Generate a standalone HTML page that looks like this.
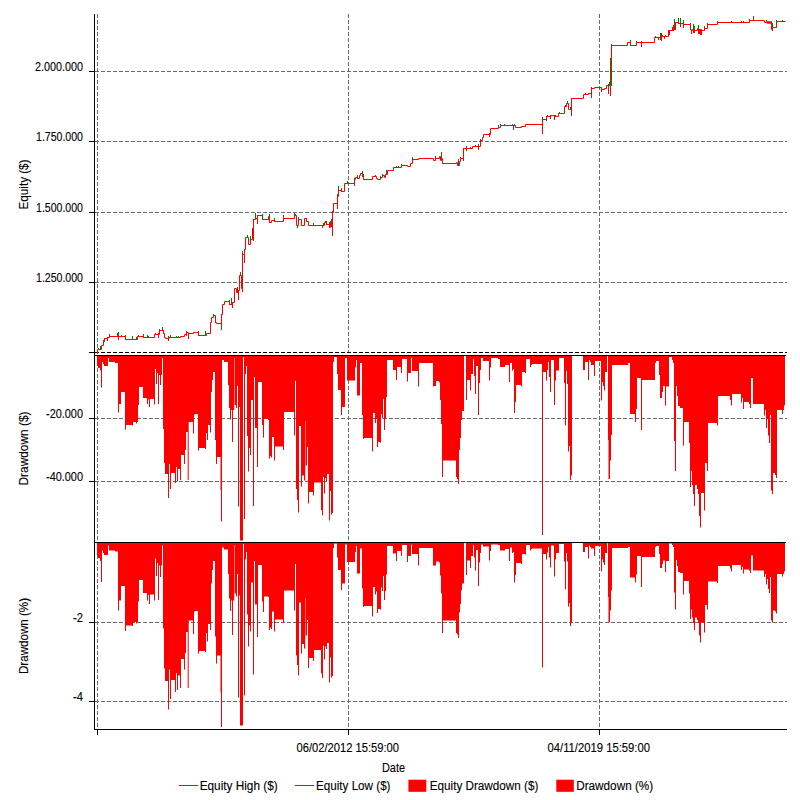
<!DOCTYPE html>
<html><head><meta charset="utf-8"><title>Equity chart</title>
<style>
html,body{margin:0;padding:0;background:#fff;}
body{width:800px;height:800px;overflow:hidden;font-family:"Liberation Sans",sans-serif;}
svg{display:block;}
text{font-family:"Liberation Sans",sans-serif;fill:#000;stroke:#000;stroke-width:0.12px;}
</style></head><body>
<svg width="800" height="800" viewBox="0 0 800 800">
<rect width="800" height="800" fill="#fff"/>
<g stroke="#6a6a6a" stroke-width="1" stroke-dasharray="4 2" shape-rendering="crispEdges" fill="none"><line x1="95" x2="787" y1="71.5" y2="71.5"/><line x1="95" x2="787" y1="141.5" y2="141.5"/><line x1="95" x2="787" y1="212.5" y2="212.5"/><line x1="95" x2="787" y1="282.5" y2="282.5"/><line x1="95" x2="787" y1="418.5" y2="418.5"/><line x1="95" x2="787" y1="481.5" y2="481.5"/><line x1="95" x2="787" y1="622.5" y2="622.5"/><line x1="95" x2="787" y1="701.5" y2="701.5"/><line x1="97.5" x2="97.5" y1="14" y2="352"/><line x1="97.5" x2="97.5" y1="356" y2="542"/><line x1="97.5" x2="97.5" y1="543" y2="729"/><line x1="348.5" x2="348.5" y1="14" y2="352"/><line x1="348.5" x2="348.5" y1="356" y2="542"/><line x1="348.5" x2="348.5" y1="543" y2="729"/><line x1="599.5" x2="599.5" y1="14" y2="352"/><line x1="599.5" x2="599.5" y1="356" y2="542"/><line x1="599.5" x2="599.5" y1="543" y2="729"/></g>
<g>
<path d="M97,356V366H98V368H100V370.5H101V387.5H102V362H103V364H104V366H108V358H109V362H115V363H118V412.5H119V404H121V392H125V429.5H126V425H132V425.5H133V422H136V423.5H137V422H138V405H139V387H143V398H147V404H148V399.5H149V407H150V399H154V404.5H155V369H156V384H157V373H158V404H159V375H160V385H161V375H162V358H163V429H164V463H165V474H168V498H169V464H170V489H171V473H175V483H176V467H177V481.5H178V469H180V480H181V455H184V464H185V450H186V432H187.7V480H188.7V422H193V433.5H194V414.5H195V414H198V450.5H199V448H205V449H206V433H207V440H208V425H210V432.5H211V392H212V380H213V372H215V440H216V464H217V457H220.5V490H221V521.5H222V360H224V362H228V385H229V408H230V419.5H231V410H232V442H233V410H234.2V358H234.7V405H236V408H237V386H238V506.5H239V407H240V540.5H243V357H244V519H245V374H246V366H247V436H248V471.5H249V448H250V455H251V400H253V506H254V377H255V428H257V467H258V382H262V425H263V437.5H264V419H268V420H269V458.5H270V456H271V457.5H272V437H274V460.5H275V446.5H283V450H284V412H294V435.5H295V381H296V489H297V500H298V512.5H299V426H301V486.5H302V475.5H304V480.5H305.3V421H305.7V465.5H307V447H308V503.5H309V492H313V495.5H314V482.5H321V510H322V515.5H323V477H324V493.5H325V478H326V481H327V474H329V520.5H330V491H331V514.5H332V513H333V362H334V357H337V374H338V390H341V415H342V407H345V358H347V380.5H355V367.5H356V360H357V395.5H360V363H362V415H363V439H364V438H372V451.5H373V413H375V423H376V419H377V447H378V442H380V442.5H381V414H382V418.5H383V399H384V430H385V418.5H386V397H387V360H393V370H395V370H396V380H397V367H401V373H402V359H407V381.5H408V373H411V358H412V371H418V386.5H419V363H433V386.5H434V386H436V381H439V382.5H440V400H441V424H442V477H443V460.5H456V477H457V479H458V484H459V450H460V438H461V420H462V411H464V356H466V400H467V380H470V390.5H471V374H473V359H474V376H475V394H476V366H478V415H479V383H480V370H481V358H483V361H489V380.5H490V367.5H491V358H495V358H498V359H500V367H505V365H509V382H510V363H512V370.5H513V369H514V413H515V402H516V385H521V386.5H522V372H525V373H526V359H530V367H531V365H532V364H542V535H543V372H546V380.5H547V370H548V362H549V377H550V392H551V360H554V405H555V380.5H556V370.5H559V358H564V383H565V425.5H566V371H567V384H568V451.5H569V446H570V480H571V475.5H572V356H583V370H585V362H588V380H589V360H590V362H591V365H594V376H595V361H601V400.5H602V382H603V386H604V390.5H605V372H607V356H608V440H608.5V479H610V460.5H611V435H612V365H628V363H630V414H635V422H636V409H637V378H641V430H642V380H655V363H656V361H659V375H660V398H662V392H663V386H665V405.5H666V386.5H669V357H672V360H673V363H674V441H675V471H676V386H677V396H678V406H680V408H683V445.5H684V422H689V443H690V487H691V471H692V485H693V494H694V506H695V485H697V489H698V494H699V516H700V527.5H701V493H704V510.5H705V463H707V471H708V423H717V425.5H718V396H730V400H731V405.5H732V394H741V402.5H742V398H743V409H744V402H749V404H750V408H751V378H753V404H764V415.5H765V410H766V428H767V419H768V435.5H769V443H770V415H771V490.5H772V494H773V473H775V475H776V478H777V410H782V414H783V410H784V405.5H785V356Z" fill="#ff0000"/>
<path d="M97,543V555.5H98V558H100V561H101V582H102V550.5H103V553H104V555H108V545.5H109V550.5H115V551.5H118V610.5H119V600.5H121V586H125V631H126V625.5H132V626H133V622H136V623.5H137V622H138V601.5H139V580H143V593H147V600.5H148V595H149V604H150V594.5H154V600.5H155V558.5H156V576H157V563H158V600H159V565.5H160V577H161V565.5H162V545.5H163V628.5H164V668.5H165V681H168V709.5H169V669.5H170V699H171V680H175V692H176V673H177V690H178V675.5H180V688H181V659H184V669.5H185V653H186V632H187.7V688H188.7V620.5H193V634H194V611.5H195V611H198V653.5H199V651H205V652H206V633H207V641.5H208V624H210V630H211V583.5H212V570H213V561H215V636.5H216V663.5H217V655.5H220.5V692.5H221V727H222V547.5H224V549.5H228V574H229V598.5H230V611H231V600.5H232V635H233V600.5H234.2V545H234.7V593.5H236V596.5H237V574H238V697.5H239V595.5H240V725.5H243V544H244V695.5H245V559.5H246V552H247V614.5H248V646.5H249V625.5H250V631.5H251V582.5H253V674.5H254V561H255V604.5H257V637H258V565H262V601.5H263V612H264V596.5H268V597H269V630H270V627.5H271V629H272V611.5H274V631.5H275V619.5H283V622.5H284V590.5H294V610.5H295V564H296V655.5H297V665H298V675.5H299V602.5H301V653.5H302V644H304V648.5H305.3V598H305.7V635.5H307V620H308V668H309V658H313V661H314V650H321V673.5H322V678H323V645.5H324V659.5H325V646.5H326V649H327V643H329V682.5H330V657.5H331V677.5H332V676H333V548H334V543.5H337V557.5H338V570H341V590H342V583.5H345V544.5H347V562H355V552H356V546H357V573.5H360V548.5H362V588.5H363V607H364V606H372V616.5H373V587H375V594.5H376V591.5H377V613H378V609H380V609.5H381V587.5H382V591H383V576H384V600H385V591H386V574.5H387V546H393V553.5H395V553.5H396V561H397V551H401V556H402V545H407V562H408V556H411V544.5H412V554H418V565.5H419V548H433V565.5H434V565.5H436V561.5H439V562.5H440V575.5H441V593.5H442V633H443V620.5H456V633H457V634.5H458V638H459V612.5H460V604H461V590.5H462V583.5H464V543H466V575H467V560.5H470V568H471V556H473V545H474V557.5H475V570.5H476V550H478V586H479V562.5H480V553H481V544.5H483V546.5H489V560.5H490V551H491V544.5H495V544.5H498V545H500V550.5H505V549H509V561H510V547.5H512V553H513V552H514V582.5H515V575H516V563H521V564H522V554H525V554.5H526V545H530V550.5H531V549H532V548.5H542V667.5H543V554H546V559.5H547V552.5H548V547H549V557.5H550V567.5H551V545.5H554V576.5H555V559.5H556V553H559V544H564V561.5H565V589.5H566V553H567V561.5H568V606.5H569V603H570V626H571V622H572V543H583V552H585V547H588V558.5H589V545.5H590V547H591V548.5H594V556H595V546H601V571.5H602V559.5H603V562.5H604V565H605V553H607V543H608V597H608.5V622.5H610V610.5H611V590.5H612V548H628V547H630V577.5H635V582.5H636V574.5H637V556H641V587H642V557H655V547H656V546H659V554H660V568H662V564H663V560.5H665V572H666V561H669V543.5H672V545H673V547H674V592.5H675V609.5H676V560H677V566H678V572H680V573H683V594.5H684V581H689V593.5H690V619H691V609.5H692V617.5H693V623H694V630H695V617.5H697V620H698V623H699V635.5H700V642.5H701V622.5H704V632.5H705V605H707V609.5H708V581.5H717V583H718V566H730V568.5H731V571.5H732V565H741V570H742V567H743V573.5H744V569.5H749V570.5H750V573H751V555.5H753V570.5H764V577H765V574H766V584.5H767V579H768V589H769V593H770V577H771V620.5H772V622.5H773V610.5H775V611.5H776V613.5H777V574H782V576.5H783V574H784V571.5H785V543Z" fill="#ff0000"/>
</g>
<g stroke="#000" stroke-width="1" shape-rendering="crispEdges" fill="none">
<line x1="95" x2="787" y1="352.5" y2="352.5" stroke-dasharray="4 2"/>
<line x1="94.5" x2="94.5" y1="14" y2="730"/>
<line x1="94" x2="786" y1="355.5" y2="355.5"/>
<line x1="94" x2="786" y1="542.5" y2="542.5"/>
<line x1="94" x2="787" y1="729.5" y2="729.5"/>
<line x1="89" x2="95" y1="71.5" y2="71.5"/><line x1="89" x2="95" y1="141.5" y2="141.5"/><line x1="89" x2="95" y1="212.5" y2="212.5"/><line x1="89" x2="95" y1="282.5" y2="282.5"/><line x1="89" x2="95" y1="352.5" y2="352.5"/><line x1="89" x2="95" y1="418.5" y2="418.5"/><line x1="89" x2="95" y1="481.5" y2="481.5"/><line x1="89" x2="95" y1="622.5" y2="622.5"/><line x1="89" x2="95" y1="701.5" y2="701.5"/><line x1="97.5" x2="97.5" y1="730" y2="735"/><line x1="348.5" x2="348.5" y1="730" y2="735"/><line x1="599.5" x2="599.5" y1="730" y2="735"/>
</g>
<g fill="none" stroke-width="1" stroke-linejoin="miter" stroke-linecap="square">
<path d="M98.5,349.5V348.5M100.5,349.5V346.5M103.5,341.5V340.5M109.5,336.5V334.5M117.5,336.5V333.5M118.5,336.5V332.5M121.5,336.5V335.5M125.5,339.5V335.5M132.5,339.5V336.5M136.5,339.5V337.5M138.5,336.5V335.5M143.5,337.5V334.5M147.5,337.5V335.5M148.5,337.5V336.5M155.5,334.5V333.5M158.5,334.5V333.5M159.5,330.5V329.5M162.5,330.5V327.5M163.5,333.5V330.5M168.5,337.5V336.5M170.5,337.5V335.5M176.5,337.5V336.5M178.5,337.5V336.5M186.5,332.5V331.5M198.5,335.5V331.5M205.5,335.5V331.5M213.5,315.5V314.5M215.5,322.5V316.5M229.5,304.5V300.5M231.5,304.5V298.5M237.5,292.5V287.5M240.5,275.5V272.5M242.5,254.5V251.5M247.5,237.5V235.5M250.5,239.5V236.5M252.5,229.5V228.5M255.5,218.5V213.5M262.5,219.5V214.5M269.5,222.5V214.5M274.5,221.5V218.5M283.5,218.5V215.5M294.5,215.5V213.5M298.5,219.5V217.5M295.5,215.5V214.5M298.5,219.5V218.5M306.5,221.5V218.5M313.5,225.5V223.5M323.5,225.5V223.5M325.5,222.5V221.5M326.5,224.5V221.5M329.5,227.5V222.5M331.5,226.5V219.5M332.5,212.5V211.5M337.5,196.5V194.5M338.5,190.5V186.5M341.5,191.5V188.5M347.5,183.5V181.5M354.5,179.5V178.5M357.5,178.5V175.5M362.5,176.5V171.5M363.5,179.5V174.5M375.5,176.5V175.5M380.5,177.5V176.5M382.5,175.5V174.5M386.5,174.5V170.5M396.5,167.5V166.5M398.5,167.5V166.5M401.5,165.5V164.5M412.5,159.5V157.5M435.5,158.5V156.5M441.5,158.5V152.5M441.5,158.5V153.5M458.5,165.5V159.5M460.5,158.5V157.5M466.5,148.5V146.5M470.5,148.5V147.5M475.5,146.5V145.5M478.5,146.5V144.5M480.5,140.5V139.5M489.5,134.5V133.5M498.5,127.5V125.5M504.5,125.5V124.5M500.5,125.5V124.5M504.5,125.5V124.5M512.5,125.5V124.5M514.5,125.5V124.5M542.5,119.5V117.5M547.5,116.5V115.5M555.5,116.5V115.5M559.5,113.5V112.5M565.5,106.5V105.5M567.5,103.5V101.5M570.5,109.5V107.5M585.5,94.5V93.5M591.5,88.5V87.5M608.5,85.5V84.5M609.5,85.5V82.5M610.5,85.5V58.5M611.5,45.5V44.5M630.5,45.5V40.5M636.5,42.5V41.5M641.5,42.5V41.5M655.5,37.5V36.5M660.5,37.5V33.5M661.5,36.5V33.5M662.5,36.5V35.5M665.5,36.5V35.5M672.5,28.5V27.5M674.5,25.5V19.5M678.5,23.5V18.5M680.5,23.5V18.5M683.5,24.5V20.5M690.5,29.5V23.5M693.5,31.5V24.5M694.5,30.5V26.5M698.5,33.5V25.5M704.5,28.5V26.5M707.5,24.5V23.5M704.5,28.5V26.5M707.5,24.5V23.5M717.5,22.5V21.5M731.5,22.5V21.5M741.5,22.5V21.5M743.5,22.5V21.5M749.5,20.5V19.5M753.5,20.5V16.5M766.5,21.5V20.5M772.5,27.5V23.5M776.5,21.5V20.5M782.5,21.5V20.5" stroke="#008000"/>
<path d="M97.5,353.5H97.5V349.5H101.5V345.5H103.5V341.5H104.5V338.5H107.5V337.5H109.5V336.5H125.5V339.5H137.5V336.5H143.5V337.5H154.5V334.5H159.5V330.5H163.5V333.5H164.5V337.5H165.5V338.5H168.5V337.5H180.5V336.5H184.5V334.5H186.5V332.5H188.5V333.5H193.5V332.5H198.5V335.5H206.5V333.5H210.5V322.5H211.5V317.5H213.5V315.5H215.5V322.5H216.5V323.5H221.5V314.5H222.5V304.5H224.5V301.5H229.5V304.5H232.5V302.5H234.5V288.5H236.5V292.5H238.5V290.5H239.5V275.5H241.5V288.5H242.5V254.5H244.5V249.5H245.5V237.5H248.5V244.5H250.5V239.5H252.5V229.5H253.5V219.5H255.5V218.5H257.5V215.5H262.5V219.5H268.5V216.5H269.5V222.5H271.5V220.5H274.5V221.5H283.5V218.5H294.5V215.5H296.5V225.5H298.5V219.5H301.5V225.5H304.5V218.5H306.5V221.5H308.5V225.5H322.5V225.5H324.5V222.5H326.5V224.5H329.5V227.5H330.5V221.5H331.5V226.5H332.5V212.5H333.5V203.5H337.5V196.5H338.5V190.5H341.5V191.5H344.5V183.5H354.5V179.5H355.5V177.5H357.5V178.5H359.5V175.5H360.5V173.5H362.5V176.5H363.5V179.5H372.5V176.5H376.5V178.5H377.5V179.5H380.5V177.5H382.5V175.5H384.5V177.5H385.5V174.5H387.5V170.5H393.5V167.5H396.5V167.5H401.5V165.5H407.5V166.5H410.5V163.5H412.5V159.5H418.5V158.5H433.5V160.5H435.5V158.5H439.5V156.5H440.5V160.5H441.5V158.5H442.5V163.5H456.5V162.5H457.5V165.5H459.5V161.5H460.5V158.5H463.5V148.5H472.5V146.5H480.5V140.5H482.5V137.5H483.5V134.5H490.5V128.5H498.5V127.5H500.5V125.5H515.5V127.5H521.5V126.5H525.5V124.5H542.5V119.5H546.5V116.5H550.5V115.5H555.5V116.5H558.5V113.5H564.5V106.5H566.5V103.5H568.5V109.5H569.5V109.5H571.5V98.5H583.5V94.5H588.5V93.5H591.5V88.5H594.5V87.5H601.5V89.5H604.5V88.5H606.5V85.5H611.5V45.5H627.5V42.5H630.5V45.5H636.5V42.5H654.5V37.5H661.5V36.5H668.5V30.5H672.5V28.5H673.5V25.5H675.5V22.5H678.5V23.5H683.5V24.5H690.5V29.5H691.5V30.5H692.5V29.5H693.5V31.5H694.5V30.5H697.5V28.5H698.5V33.5H699.5V29.5H701.5V30.5H704.5V28.5H707.5V24.5H717.5V22.5H749.5V20.5H764.5V22.5H766.5V21.5H767.5V23.5H768.5V21.5H769.5V23.5H770.5V21.5H771.5V29.5H772.5V27.5H776.5V21.5H785" stroke="#ff0000"/>
<path d="M118.5,336.5V339.5M158.5,334.5V337.5M168.5,337.5V340.5M188.5,333.5V338.5M221.5,314.5V329.5M232.5,302.5V307.5M238.5,290.5V299.5M242.5,254.5V291.5M244.5,249.5V262.5M253.5,219.5V240.5M257.5,215.5V223.5M297.5,225.5V227.5M322.5,225.5V227.5M332.5,212.5V235.5M337.5,196.5V208.5M354.5,179.5V185.5M463.5,148.5V160.5M466.5,148.5V150.5M478.5,146.5V149.5M489.5,134.5V136.5M513.5,125.5V129.5M542.5,119.5V133.5M554.5,115.5V119.5M571.5,98.5V115.5M591.5,88.5V97.5M601.5,89.5V91.5M608.5,85.5V93.5M610.5,85.5V95.5M641.5,42.5V46.5M658.5,37.5V39.5M664.5,36.5V38.5M680.5,23.5V26.5M683.5,24.5V27.5M772.5,27.5V30.5M701.5,30.5V34.5M546.5,116.5V120.5M550.5,115.5V118.5M104.5,338.5V341.5M107.5,337.5V340.5M186.5,332.5V335.5M668.5,30.5V35.5M669.5,30.5V34.5M672.5,28.5V30.5M673.5,25.5V30.5M674.5,25.5V29.5M675.5,22.5V29.5M698.5,33.5V33.5M699.5,29.5V33.5M700.5,29.5V34.5M660.5,37.5V39.5M661.5,36.5V40.5M693.5,31.5V32.5M694.5,30.5V32.5M691.5,30.5V33.5" stroke="#ff0000"/>
</g>
<g shape-rendering="crispEdges">
<line x1="179" x2="198" y1="785.5" y2="785.5" stroke="#008000"/>
<line x1="295" x2="314" y1="785.5" y2="785.5" stroke="#ff0000"/>
</g>
<rect x="408.4" y="779.7" width="17.9" height="12.1" fill="#ff0000"/>
<rect x="556.3" y="779.7" width="17.5" height="12.1" fill="#ff0000"/>
<text x="83" y="71" text-anchor="end" textLength="48" lengthAdjust="spacingAndGlyphs" font-size="12">2.000.000</text><text x="83" y="141" text-anchor="end" textLength="47" lengthAdjust="spacingAndGlyphs" font-size="12">1.750.000</text><text x="83" y="212" text-anchor="end" textLength="47" lengthAdjust="spacingAndGlyphs" font-size="12">1.500.000</text><text x="83" y="282" text-anchor="end" textLength="47" lengthAdjust="spacingAndGlyphs" font-size="12">1.250.000</text><text x="83" y="418" text-anchor="end" textLength="37" lengthAdjust="spacingAndGlyphs" font-size="12">-20.000</text><text x="83" y="481" text-anchor="end" textLength="37" lengthAdjust="spacingAndGlyphs" font-size="12">-40.000</text><text x="83" y="622" text-anchor="end" textLength="10" lengthAdjust="spacingAndGlyphs" font-size="12">-2</text><text x="83" y="701" text-anchor="end" textLength="10" lengthAdjust="spacingAndGlyphs" font-size="12">-4</text><text x="296.5" y="752" text-anchor="start" textLength="102.5" lengthAdjust="spacingAndGlyphs" font-size="12">06/02/2012 15:59:00</text><text x="547.5" y="752" text-anchor="start" textLength="102.5" lengthAdjust="spacingAndGlyphs" font-size="12">04/11/2019 15:59:00</text><text x="382" y="772" text-anchor="start" textLength="23" lengthAdjust="spacingAndGlyphs" font-size="12">Date</text><text x="199.7" y="790" text-anchor="start" textLength="78" lengthAdjust="spacingAndGlyphs" font-size="12">Equity High ($)</text><text x="316" y="790" text-anchor="start" textLength="74.5" lengthAdjust="spacingAndGlyphs" font-size="12">Equity Low ($)</text><text x="429.7" y="790" text-anchor="start" textLength="108.7" lengthAdjust="spacingAndGlyphs" font-size="12">Equity Drawdown ($)</text><text x="576.2" y="790" text-anchor="start" textLength="77" lengthAdjust="spacingAndGlyphs" font-size="12">Drawdown (%)</text><text transform="translate(28,184.5) rotate(-90)" text-anchor="middle" textLength="50" lengthAdjust="spacingAndGlyphs" font-size="12">Equity ($)</text><text transform="translate(28,448.5) rotate(-90)" text-anchor="middle" textLength="74" lengthAdjust="spacingAndGlyphs" font-size="12">Drawdown ($)</text><text transform="translate(28,636) rotate(-90)" text-anchor="middle" textLength="76" lengthAdjust="spacingAndGlyphs" font-size="12">Drawdown (%)</text>
</svg>
</body></html>
